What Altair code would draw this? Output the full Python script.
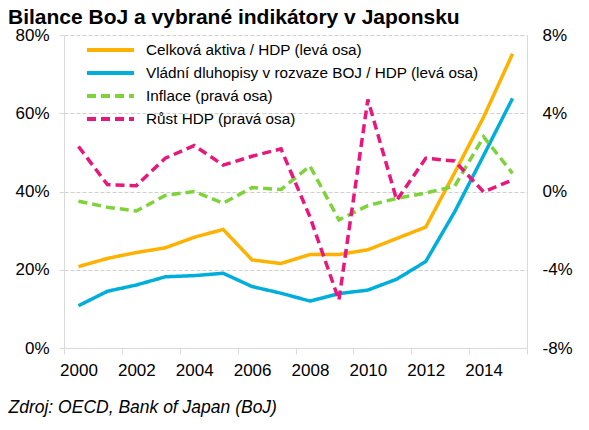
import altair as alt
import pandas as pd

years = list(range(2000, 2016))
assets = [20.8, 22.9, 24.4, 25.6, 28.3, 30.3, 22.5, 21.6, 23.9, 23.9, 25.1, 28.0, 30.9, 44.8, 59.0, 75.2]
bonds = [10.8, 14.5, 16.1, 18.2, 18.5, 19.1, 15.7, 14.0, 12.0, 13.9, 14.8, 17.6, 22.1, 34.8, 49.2, 63.8]
inflation = [-0.5, -0.8, -1.0, -0.2, 0.0, -0.6, 0.2, 0.1, 1.3, -1.45, -0.72, -0.35, -0.08, 0.27, 2.8, 0.93]
gdp = [2.3, 0.35, 0.3, 1.7, 2.35, 1.35, 1.8, 2.18, -1.3, -5.55, 4.7, -0.45, 1.7, 1.56, -0.02, 0.59]

series_names = [
    "Celková aktiva / HDP (levá osa)",
    "Vládní dluhopisy v rozvaze BOJ / HDP (levá osa)",
    "Inflace (pravá osa)",
    "Růst HDP (pravá osa)",
]
series_colors = ["#FFB100", "#00AEDB", "#7ED23A", "#E8177D"]
series_dash = [[1, 0], [1, 0], [9, 5], [9, 5]]

x_ticks = [1999.5 + 2 * i for i in range(9)]
left_ticks = [0, 20, 40, 60, 80]
right_ticks = [-8, -4, 0, 4, 8]

left_df = pd.DataFrame({
    "year": years * 2,
    "value": assets + bonds,
    "series": [series_names[0]] * 16 + [series_names[1]] * 16,
})
right_df = pd.DataFrame({
    "year": years * 2,
    "value": inflation + gdp,
    "series": [series_names[2]] * 16 + [series_names[3]] * 16,
})

W, H = 463, 313
FONT = "Liberation Sans"
GRAY = "#d9d9d9"

x_axis = alt.Axis(
    values=x_ticks,
    labelExpr="datum.value < 2015 ? format(datum.value + 0.5, 'd') : ''",
    labelOffset=W / 32, labelFlush=False,
    labelFontSize=17, labelFont=FONT, labelColor="black",
    labelPadding=8, tickSize=6, tickColor=GRAY, domainColor=GRAY,
    grid=False, labelOverlap=False,
    title="Zdroj: OECD, Bank of Japan (BoJ)",
    titleFont=FONT, titleFontSize=17.5, titleFontStyle="italic", titleFontWeight="normal",
    titleColor="black", titleAlign="left", titleBaseline="alphabetic",
    titleX=-56, titleY=64,
)
x_enc = alt.X("year:Q", scale=alt.Scale(domain=[1999.5, 2015.5], nice=False, zero=False), axis=x_axis)

color_enc = alt.Color("series:N", scale=alt.Scale(domain=series_names, range=series_colors),
                      legend=alt.Legend(title=None))
dash_enc = alt.StrokeDash("series:N", scale=alt.Scale(domain=series_names, range=series_dash),
                          legend=alt.Legend(title=None))

left = alt.Chart(left_df).mark_line(strokeWidth=3.5).encode(
    x=x_enc,
    y=alt.Y("value:Q", scale=alt.Scale(domain=[0, 80], nice=False),
            axis=alt.Axis(orient="left", values=left_ticks, labelExpr="datum.value + '%'",
                          labelFontSize=17, labelFont=FONT, labelColor="black",
                          tickSize=5, tickColor=GRAY, domainColor=GRAY, labelPadding=10,
                          grid=True, gridColor="#cfcfcf", gridDash=[4, 2], title=None)),
    color=color_enc,
    strokeDash=dash_enc,
)

right = alt.Chart(right_df).mark_line(strokeWidth=3.5).encode(
    x=x_enc,
    y=alt.Y("value:Q", scale=alt.Scale(domain=[-8, 8], nice=False),
            axis=alt.Axis(orient="right", values=right_ticks, labelExpr="datum.value + '%'",
                          labelFontSize=17, labelFont=FONT, labelColor="black",
                          ticks=False, domainColor=GRAY, labelPadding=15,
                          grid=False, title=None)),
    color=color_enc,
    strokeDash=dash_enc,
)

chart = alt.layer(left, right).resolve_scale(y="independent").properties(
    width=W, height=H,
    autosize=alt.AutoSizeParams(type="none"),
    padding={"left": 56, "top": 27, "right": 54, "bottom": 74},
    title=alt.TitleParams(
        "Bilance BoJ a vybrané indikátory v Japonsku",
        font=FONT, fontSize=21, fontWeight="bold", color="black",
        anchor="start", frame="group", dx=-56, dy=34, baseline="alphabetic", offset=15,
    ),
).configure_view(stroke=None).configure_legend(
    orient="none", legendX=21, legendY=7, padding=0,
    symbolType="stroke", symbolSize=2209, symbolStrokeWidth=4,
    labelFont=FONT, labelFontSize=15.3, labelColor="black", labelOffset=10,
    labelLimit=500, clipHeight=16, rowPadding=6,
)

chart.save("out.html", embed_options={"renderer": "svg", "actions": False})
